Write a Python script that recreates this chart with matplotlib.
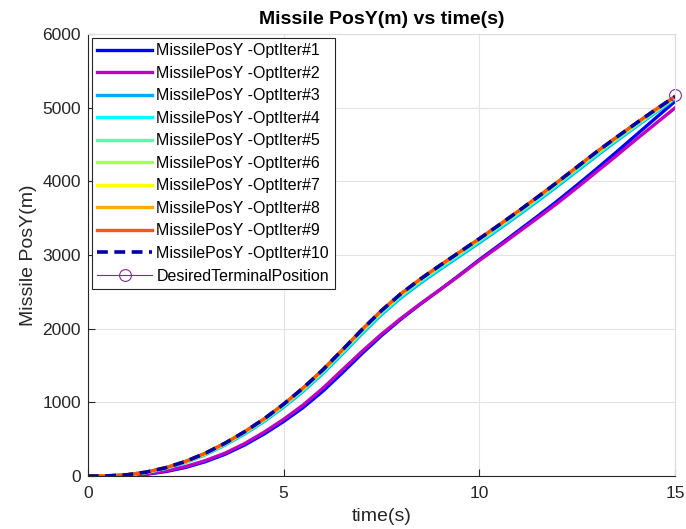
import numpy as np
import matplotlib
matplotlib.use("Agg")
import matplotlib.pyplot as plt

plt.rcParams['font.family'] = ['Liberation Sans', 'DejaVu Sans']

# time grid (s)
time_s = [0, 0.5, 1, 1.5, 2, 2.5, 3, 3.5, 4, 4.5, 5, 5.5, 6, 6.5, 7, 7.5,
          8, 8.5, 9, 9.5, 10, 10.5, 11, 11.5, 12, 12.5, 13, 13.5, 14, 14.5, 15]

# missile Y position per optimisation iteration (m)
posY_iter1 = [0, 1, 6, 25, 62, 118, 195, 295, 420, 570, 740, 930, 1150, 1400, 1660, 1905,
              2130, 2335, 2530, 2730, 2935, 3130, 3330, 3530, 3735, 3950, 4170, 4395, 4625, 4855, 5085]
posY_iter2 = [0, 1, 8, 30, 70, 130, 210, 310, 440, 595, 770, 965, 1190, 1440, 1690, 1925,
              2140, 2340, 2530, 2725, 2925, 3115, 3310, 3505, 3705, 3915, 4130, 4345, 4565, 4780, 4995]
posY_iter3 = [0, 2, 15, 48, 105, 185, 290, 420, 570, 740, 935, 1150, 1390, 1655, 1930, 2190,
              2420, 2620, 2805, 2985, 3165, 3350, 3540, 3735, 3935, 4140, 4345, 4545, 4740, 4930, 5120]
posY_iter4 = [0, 2, 16, 50, 108, 190, 295, 428, 580, 752, 948, 1165, 1405, 1672, 1948, 2208,
              2438, 2638, 2823, 3003, 3183, 3368, 3558, 3753, 3953, 4158, 4363, 4560, 4752, 4942, 5128]
posY_iter5 = [0, 2, 17, 52, 110, 194, 300, 435, 588, 762, 958, 1177, 1420, 1688, 1963, 2223,
              2453, 2653, 2838, 3018, 3198, 3383, 3573, 3768, 3968, 4173, 4378, 4573, 4763, 4952, 5135]
posY_iter6 = [0, 3, 17, 53, 112, 197, 305, 440, 594, 768, 966, 1186, 1430, 1700, 1975, 2235,
              2465, 2665, 2850, 3030, 3210, 3395, 3585, 3780, 3980, 4185, 4390, 4585, 4775, 4961, 5142]
posY_iter7 = [0, 3, 18, 54, 114, 199, 308, 443, 598, 773, 971, 1191, 1436, 1705, 1981, 2241,
              2471, 2671, 2856, 3036, 3216, 3401, 3591, 3786, 3986, 4191, 4396, 4591, 4781, 4966, 5146]
posY_iter8 = [0, 3, 18, 55, 115, 200, 310, 445, 600, 775, 974, 1194, 1439, 1709, 1984, 2244,
              2474, 2674, 2859, 3039, 3219, 3404, 3594, 3789, 3989, 4194, 4399, 4594, 4784, 4969, 5149]
posY_iter9 = [0, 3, 18, 55, 115, 200, 310, 445, 600, 775, 976, 1196, 1441, 1711, 1986, 2246,
              2476, 2676, 2861, 3041, 3221, 3406, 3596, 3791, 3991, 4196, 4401, 4596, 4786, 4971, 5151]
posY_iter10 = [0, 3, 18, 55, 115, 200, 310, 445, 600, 775, 975, 1195, 1440, 1710, 1985, 2245,
               2475, 2675, 2860, 3040, 3220, 3405, 3595, 3790, 3990, 4195, 4400, 4595, 4785, 4970, 5150]

desired_t = [15]
desired_y = [5165]

series = [posY_iter1, posY_iter2, posY_iter3, posY_iter4, posY_iter5,
          posY_iter6, posY_iter7, posY_iter8, posY_iter9, posY_iter10]
colors = ['#0000ff', '#bf00bf', '#00aaff', '#00ffff', '#55ffaa',
          '#aaff55', '#ffff00', '#ffaa00', '#ff5500', '#0000aa']

fig = plt.figure(figsize=(6.86, 5.29), dpi=100)
ax = fig.add_axes([0.128, 0.100, 0.856, 0.836])

for i, (ys, c) in enumerate(zip(series, colors)):
    lbl = 'MissilePosY -OptIter#%d' % (i + 1)
    if i == 9:
        ax.plot(time_s, ys, color=c, lw=2.6, ls=(0, (3, 1.8)), label=lbl)
    else:
        ax.plot(time_s, ys, color=c, lw=2.4, label=lbl)

ax.plot(desired_t, desired_y, color='#7e2f8e', lw=0.8, marker='o', ms=8.5,
        mfc='none', mew=0.8, clip_on=False, label='DesiredTerminalPosition')

ax.set_xlim(0, 15)
ax.set_ylim(0, 6000)
ax.set_xticks([0, 5, 10, 15])
ax.set_yticks(np.arange(0, 6001, 1000))
ax.grid(True, color='#e3e3e3', lw=0.8)
ax.set_axisbelow(True)
ax.tick_params(direction='in', length=5, labelsize=12.5, colors='#262626', width=0.8)
ax.tick_params(axis='x', pad=7)
ax.tick_params(axis='y', pad=5)
for s in ['top', 'right']:
    ax.spines[s].set_color('#dcdcdc')
for s in ['left', 'bottom']:
    ax.spines[s].set_color('#262626')
    ax.spines[s].set_linewidth(0.8)

ax.set_title('Missile PosY(m) vs time(s)', fontsize=14, fontweight='bold', pad=7)
ax.set_xlabel('time(s)', fontsize=14, color='#262626', labelpad=5)
ax.set_ylabel('Missile PosY(m)', fontsize=14, color='#262626', labelpad=4)

leg = ax.legend(loc='upper left', fontsize=11.5, handlelength=3.4, labelspacing=0.47,
                borderaxespad=0.25, fancybox=False, framealpha=1, borderpad=0.35,
                handletextpad=0.3)
leg.get_frame().set_edgecolor('#262626')
leg.get_frame().set_linewidth(0.8)

fig.savefig('out.png', dpi=100)
